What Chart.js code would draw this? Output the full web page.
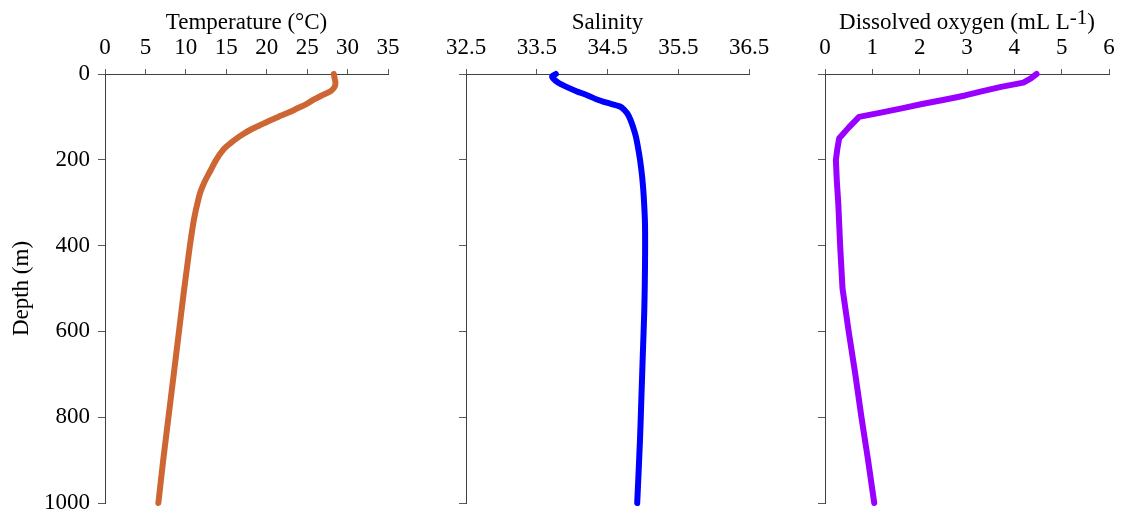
<!DOCTYPE html>
<html>
<head>
<meta charset="utf-8">
<title>Depth profiles</title>
<script src="https://cdn.jsdelivr.net/npm/chart.js@4.4.1/dist/chart.umd.min.js"></script>
<style>
  html, body { margin: 0; padding: 0; background: #ffffff; }
  #wrap { position: relative; width: 1124px; height: 518px; overflow: hidden; background: #ffffff; }
  canvas { position: absolute; top: 0; }
</style>
</head>
<body>
<div id="wrap">
  <canvas id="cTemp" width="420" height="518" style="left:0px"></canvas>
  <canvas id="cSal" width="380" height="518" style="left:400px"></canvas>
  <canvas id="cOxy" width="364" height="518" style="left:760px"></canvas>
</div>
<script>
// Depth axis
const depthTicks = [0, 200, 400, 600, 800, 1000];

// Temperature profile (°C)
const tempDepth = [0, 10, 20, 30, 40, 50, 60, 70, 80, 90, 100, 110, 120, 130, 140, 150, 160, 175, 200, 225, 250, 275, 300, 325, 350, 400, 450, 500, 600, 700, 800, 900, 1000];
const tempValues = [28.3, 28.4, 28.5, 28.4, 27.9, 26.8, 25.8, 24.9, 23.8, 22.7, 21.4, 20.2, 19.1, 18.0, 17.1, 16.3, 15.6, 14.7, 13.75, 13.05, 12.35, 11.8, 11.45, 11.15, 10.9, 10.5, 10.15, 9.8, 9.15, 8.5, 7.85, 7.2, 6.6];
const tempTicks = [0, 5, 10, 15, 20, 25, 30, 35];

// Salinity profile
const salDepth = [0, 5, 10, 20, 30, 40, 50, 60, 67, 76, 84, 92, 105, 123, 145, 170, 200, 240, 280, 350, 450, 550, 650, 750, 850, 1000];
const salValues = [33.77, 33.72, 33.73, 33.80, 33.92, 34.06, 34.22, 34.36, 34.49, 34.68, 34.74, 34.78, 34.82, 34.86, 34.90, 34.93, 34.96, 34.99, 35.01, 35.03, 35.03, 35.02, 35.00, 34.98, 34.96, 34.92];
const salTicks = [32.5, 33.5, 34.5, 35.5, 36.5];

// Dissolved oxygen profile (mL L-1)
const oxyDepth = [0, 10, 20, 30, 40, 50, 60, 70, 80, 90, 100, 125, 150, 175, 200, 250, 300, 400, 500, 600, 700, 800, 900, 1000];
const oxyValues = [4.47, 4.35, 4.19, 3.72, 3.33, 2.96, 2.52, 2.05, 1.62, 1.18, 0.72, 0.50, 0.30, 0.26, 0.23, 0.25, 0.28, 0.32, 0.37, 0.50, 0.64, 0.77, 0.91, 1.04];
const oxyTicks = [0, 1, 2, 3, 4, 5, 6];

const FONT = "'Liberation Serif', 'Times New Roman', serif";
const FONT_SIZE = 23;
const AXIS_COLOR = '#404040';
const TICK_COLOR = '#5a5a5a';

// Draws the axis caption above the top axis, with optional superscript runs
function captionPlugin(parts) {
  return {
    id: 'caption',
    afterDraw(chart) {
      const ctx = chart.ctx;
      const area = chart.chartArea;
      const base = 29;
      const supSize = 21;
      ctx.save();
      ctx.fillStyle = '#000000';
      ctx.textBaseline = 'alphabetic';
      ctx.textAlign = 'left';
      let total = 0;
      const widths = parts.map(p => {
        ctx.font = (p.sup ? supSize : FONT_SIZE) + 'px ' + FONT;
        const w = ctx.measureText(p.text).width;
        total += w;
        return w;
      });
      let x = (area.left + area.right) / 2 - total / 2;
      parts.forEach((p, i) => {
        ctx.font = (p.sup ? supSize : FONT_SIZE) + 'px ' + FONT;
        ctx.fillText(p.text, x, p.sup ? base - 5 : base);
        x += widths[i];
      });
      ctx.restore();
    }
  };
}

function toPoints(xs, ys) {
  return xs.map((v, i) => ({ x: v, y: ys[i] }));
}

// Fixed box sizes keep the three plot areas aligned with each other
function fixBox(size, horizontal) {
  return scale => {
    if (horizontal) { scale.height = size; } else { scale.width = size; }
    scale.paddingLeft = 0;
    scale.paddingRight = 0;
    scale.paddingTop = 0;
    scale.paddingBottom = 0;
  };
}

function makeProfile(canvasId, opts) {
  const tickFont = { family: FONT, size: FONT_SIZE };
  return new Chart(document.getElementById(canvasId), {
    type: 'scatter',
    data: {
      datasets: [{
        data: toPoints(opts.values, opts.depth),
        showLine: true,
        borderColor: opts.color,
        backgroundColor: opts.color,
        borderWidth: 6,
        borderCapStyle: 'round',
        borderJoinStyle: 'round',
        tension: opts.tension,
        pointRadius: 0,
        pointHoverRadius: 0,
        clip: false
      }]
    },
    options: {
      responsive: false,
      animation: false,
      devicePixelRatio: 1,
      layout: { padding: { left: 0, right: opts.padRight, top: 0, bottom: 15 } },
      plugins: { legend: { display: false }, tooltip: { enabled: false } },
      scales: {
        x: {
          type: 'linear',
          position: 'top',
          min: opts.xTicks[0],
          max: opts.xTicks[opts.xTicks.length - 1],
          afterBuildTicks: scale => { scale.ticks = opts.xTicks.map(v => ({ value: v })); },
          afterFit: fixBox(74, true),
          ticks: {
            font: tickFont,
            color: '#000000',
            padding: 7,
            maxRotation: 0,
            autoSkip: false,
            callback: v => opts.xLabel(v)
          },
          grid: { drawOnChartArea: false, drawTicks: true, tickLength: 5, color: TICK_COLOR },
          border: { display: true, color: AXIS_COLOR, width: 1 }
        },
        y: {
          type: 'linear',
          position: 'left',
          reverse: true,
          min: 0,
          max: 1000,
          afterBuildTicks: scale => { scale.ticks = depthTicks.map(v => ({ value: v })); },
          afterFit: fixBox(opts.yWidth, false),
          ticks: {
            display: opts.showDepthLabels,
            font: tickFont,
            color: '#000000',
            padding: 8,
            callback: v => String(v)
          },
          grid: { drawOnChartArea: false, drawTicks: true, tickLength: 7, color: TICK_COLOR },
          border: { display: true, color: AXIS_COLOR, width: 1 },
          title: {
            display: opts.showDepthLabels,
            text: 'Depth (m)',
            font: { family: FONT, size: FONT_SIZE },
            color: '#000000',
            padding: { top: 8, bottom: 0 }
          }
        }
      }
    },
    plugins: [captionPlugin(opts.caption)]
  });
}

makeProfile('cTemp', {
  depth: tempDepth, values: tempValues, xTicks: tempTicks,
  xLabel: v => String(v),
  color: '#cd6633', tension: 0.3,
  yWidth: 105, padRight: 32, showDepthLabels: true,
  caption: [{ text: 'Temperature (°C)' }]
});

makeProfile('cSal', {
  depth: salDepth, values: salValues, xTicks: salTicks,
  xLabel: v => v.toFixed(1),
  color: '#0000ff', tension: 0.3,
  yWidth: 66, padRight: 31, showDepthLabels: false,
  caption: [{ text: 'Salinity' }]
});

makeProfile('cOxy', {
  depth: oxyDepth, values: oxyValues, xTicks: oxyTicks,
  xLabel: v => String(v),
  color: '#9900ff', tension: 0,
  yWidth: 65, padRight: 15, showDepthLabels: false,
  caption: [{ text: 'Dissolved oxygen (mL L' }, { text: '-1', sup: true }, { text: ')' }]
});
</script>
</body>
</html>
